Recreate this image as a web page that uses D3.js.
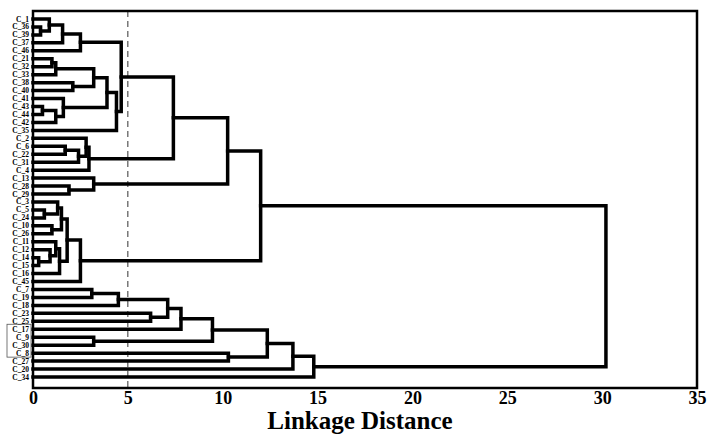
<!DOCTYPE html>
<html>
<head>
<meta charset="utf-8">
<script src="https://cdn.jsdelivr.net/npm/d3@7"></script>
<style>
  body { margin: 0; background: #fff; }
  svg { display: block; font-family: "Liberation Serif", "DejaVu Serif", serif; }
</style>
</head>
<body>
<div id="graph"></div>
<script>
let width = 707;
let height = 434;

// leaf order, top to bottom
let leaves = ["C_1","C_36","C_39","C_37","C_46","C_21","C_32","C_33","C_38","C_40",
  "C_41","C_43","C_44","C_42","C_35","C_2","C_6","C_22","C_31","C_4",
  "C_13","C_28","C_29","C_3","C_5","C_24","C_10","C_26","C_11","C_12",
  "C_14","C_15","C_16","C_45","C_7","C_19","C_18","C_23","C_25","C_17",
  "C_9","C_30","C_8","C_27","C_20","C_34"];

// merges: [child a, child b, linkage distance]; numbers point to earlier merges
let merges = [
  ["C_36","C_39",0.4], [ "C_1",0,0.86], [1,"C_37",1.56], [2,"C_46",2.5],
  ["C_21","C_32",1.0], [4,"C_33",1.2], ["C_38","C_40",2.1], [5,6,3.2],
  ["C_43","C_44",0.5], [8,"C_42",1.2], ["C_41",9,1.6], [7,10,3.9],
  [11,"C_35",4.4], [3,12,4.65],
  ["C_6","C_22",1.7], [14,"C_31",2.4], ["C_2",15,2.8], [16,"C_4",2.95],
  [13,17,7.4],
  ["C_28","C_29",1.9], ["C_13",19,3.2], [18,20,10.26],
  ["C_5","C_24",0.6], ["C_3",22,1.3], ["C_10","C_26",1.0], [23,24,1.5],
  ["C_14","C_15",0.3], ["C_12",26,0.9], ["C_11",27,1.2], [28,"C_16",1.4],
  [25,29,1.8], [30,"C_45",2.5], [21,31,12.0],
  ["C_7","C_19",3.1], [33,"C_18",4.5], ["C_23","C_25",6.2], [34,35,7.1],
  [36,"C_17",7.8], ["C_9","C_30",3.2], [37,38,9.46], ["C_8","C_27",10.3],
  [39,40,12.35], [41,"C_20",13.7], [42,"C_34",14.8],
  [32,43,30.2]
];

let ticks = [0, 5, 10, 15, 20, 25, 30, 35];
let cutoff = 5;
let boxed = ["C_17","C_9","C_30","C_8"];

let plot = { left: 33, right: 697, top: 11, bottom: 388 };

let x = d3.scaleLinear().domain([0, 35]).range([plot.left, plot.right]);
let yLeaf = d3.scalePoint().domain(leaves).range([19, 377]);

// build hierarchy from merges
let nodes = merges.map(() => null);
let ref = (k) => typeof k === "number" ? nodes[k] : { name: k, h: 0 };
merges.forEach((m, i) => {
  nodes[i] = { name: "m" + i, h: m[2], children: [ref(m[0]), ref(m[1])] };
});
let root = d3.hierarchy(nodes[nodes.length - 1]);
root.eachAfter(d => {
  d.py = d.children ? d3.mean(d.children, c => c.py) : yLeaf(d.data.name);
  d.px = x(d.data.h);
});

let svg = d3.select('#graph').append('svg')
  .attr('width', width).attr('height', height);

// cut-off line
svg.append('line')
  .attr('x1', x(cutoff)).attr('x2', x(cutoff))
  .attr('y1', plot.top).attr('y2', plot.bottom)
  .attr('stroke', '#333').attr('stroke-width', 1)
  .attr('stroke-dasharray', '6,4');

// elbows
let lines = svg.append('g')
  .attr('fill', 'none').attr('stroke', '#000')
  .attr('stroke-width', 3.5).attr('stroke-linecap', 'square');

root.descendants().filter(d => d.children).forEach(d => {
  let [a, b] = d.children;
  lines.append('path')
    .attr('d', `M${a.px},${a.py}H${d.px}V${b.py}H${b.px}`);
});

// frame
svg.append('rect')
  .attr('x', plot.left).attr('y', plot.top)
  .attr('width', plot.right - plot.left).attr('height', plot.bottom - plot.top)
  .attr('fill', 'none').attr('stroke', '#000').attr('stroke-width', 2.5);

// leaf labels
svg.append('g').selectAll('text')
  .data(leaves)
  .enter()
  .append('text')
  .attr('x', 29)
  .attr('y', d => yLeaf(d) + 2.5)
  .attr('text-anchor', 'end')
  .attr('font-size', 7.5)
  .attr('font-weight', 700)
  .attr('fill', '#000')
  .text(d => d);

// box around selected labels
let by = boxed.map(yLeaf);
svg.append('rect')
  .attr('x', 7).attr('y', d3.min(by) - 5)
  .attr('width', 24).attr('height', d3.max(by) - d3.min(by) + 9)
  .attr('fill', 'none').attr('stroke', '#555').attr('stroke-width', 0.8);

// x axis
let axis = svg.append('g')
  .attr('transform', `translate(0,${plot.bottom})`)
  .call(d3.axisBottom(x).tickValues(ticks).tickSize(0).tickPadding(3));
axis.attr('font-family', null);
axis.select('.domain').remove();
axis.selectAll('text')
  .style('font-family', '"Liberation Serif", serif')
  .attr('font-size', 18).attr('font-weight', 700).attr('fill', '#000');

svg.append('text')
  .attr('x', 360).attr('y', 429)
  .attr('text-anchor', 'middle')
  .attr('font-size', 25).attr('font-weight', 700)
  .attr('fill', '#000')
  .text('Linkage Distance');
</script>
</body>
</html>
